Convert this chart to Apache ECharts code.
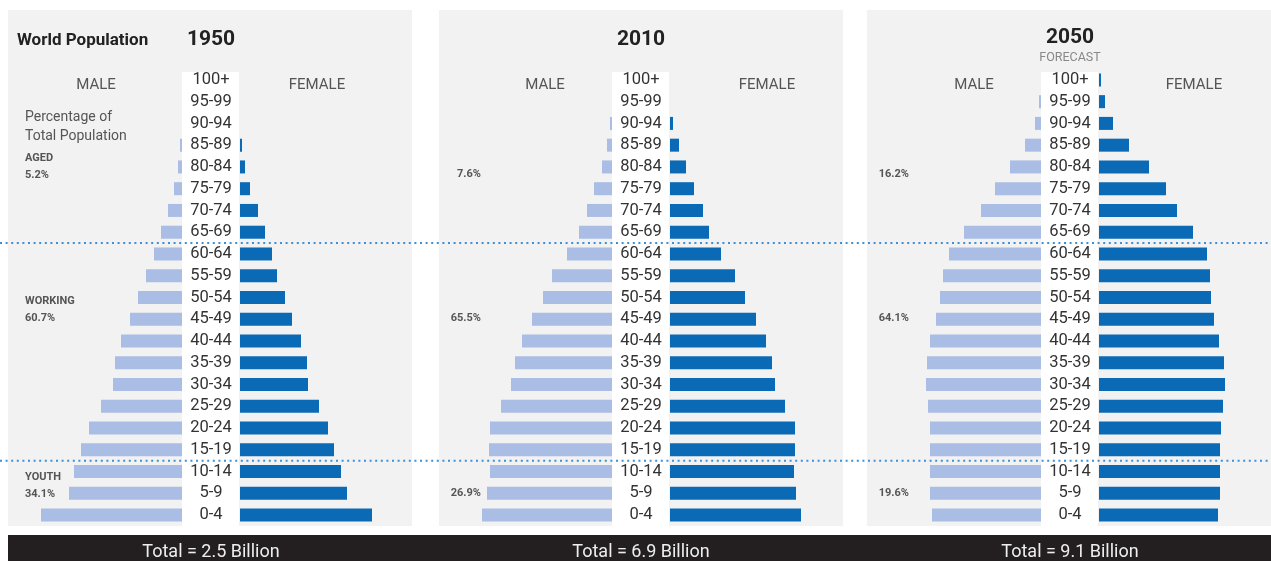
<!DOCTYPE html>
<html><head><meta charset="utf-8">
<script src="https://cdn.jsdelivr.net/npm/echarts@6/dist/echarts.min.js"></script>
<style>html,body{margin:0;padding:0;background:#fff}#c{width:1271px;height:561px}</style>
</head><body><div id="c"></div>
<script>
// ---- data ----
const ageGroups = ['100+','95-99','90-94','85-89','80-84','75-79','70-74','65-69','60-64','55-59','50-54','45-49','40-44','35-39','30-34','25-29','20-24','15-19','10-14','5-9','0-4'];
const years = ['1950','2010','2050'];
const male1950   = [0,0,0,0.1,0.2,0.4,0.7,1.05,1.4,1.8,2.2,2.6,3.05,3.35,3.45,4.05,4.65,5.05,5.4,5.65,7.05];
const female1950 = [0,0,0,0.1,0.25,0.5,0.9,1.25,1.6,1.85,2.25,2.6,3.05,3.35,3.4,3.95,4.4,4.7,5.05,5.35,6.6];
const male2010   = [0,0,0.1,0.25,0.5,0.9,1.25,1.65,2.25,3.0,3.45,4.0,4.5,4.85,5.05,5.55,6.1,6.15,6.1,6.25,6.5];
const female2010 = [0,0,0.15,0.45,0.8,1.2,1.65,1.95,2.55,3.25,3.75,4.3,4.8,5.1,5.25,5.75,6.25,6.25,6.2,6.3,6.55];
const male2050   = [0,0.1,0.3,0.8,1.55,2.3,3.0,3.85,4.6,4.9,5.05,5.25,5.55,5.7,5.75,5.65,5.55,5.55,5.55,5.55,5.45];
const female2050 = [0.1,0.3,0.7,1.5,2.5,3.35,3.9,4.7,5.4,5.55,5.6,5.75,6.0,6.25,6.3,6.2,6.1,6.05,6.05,6.05,5.95];
const agedShare    = ['5.2%','7.6%','16.2%'];
const workingShare = ['60.7%','65.5%','64.1%'];
const youthShare   = ['34.1%','26.9%','19.6%'];
const totals = ['Total = 2.5 Billion','Total = 6.9 Billion','Total = 9.1 Billion'];

const maleData = [male1950, male2010, male2050];
const femaleData = [female1950, female2010, female2050];

// ---- layout ----
const FONT = 'Roboto, "Open Sans", sans-serif';
const MALE_C = '#aabde4', FEMALE_C = '#0b6ab5';
const panelX = [8, 439, 867];
const colL = [182, 612, 1041];
const COLW = 58, GW = 170, GTOP = 69, GH = 457, XMAX = 8.5;
const maleTitleX = [96, 545, 974];
const femaleTitleX = [317, 767, 1194];
const centerX = colL.map(c => c + 29);

const grid = [], xAxis = [], yAxis = [], series = [];
for (let i = 0; i < 3; i++) {
  grid.push({left: colL[i] - GW, top: GTOP, width: GW, height: GH});
  grid.push({left: colL[i] + COLW, top: GTOP, width: GW, height: GH});
  xAxis.push({gridIndex: 2*i, type: 'value', inverse: true, min: 0, max: XMAX, show: false});
  xAxis.push({gridIndex: 2*i+1, type: 'value', min: 0, max: XMAX, show: false});
  yAxis.push({gridIndex: 2*i, type: 'category', data: ageGroups, inverse: true, position: 'right',
    axisLine: {show: false, onZero: false}, axisTick: {show: false}, splitLine: {show: false},
    axisLabel: {interval: 0, align: 'center', margin: 29, fontSize: 16.5, color: '#333', fontFamily: FONT, padding: [5, 0, 0, 0]}});
  yAxis.push({gridIndex: 2*i+1, type: 'category', data: ageGroups, inverse: true, show: false});
  series.push({type: 'bar', name: 'Male ' + years[i], xAxisIndex: 2*i, yAxisIndex: 2*i, data: maleData[i],
    barWidth: 13, itemStyle: {color: MALE_C}, silent: true, z: 3});
  series.push({type: 'bar', name: 'Female ' + years[i], xAxisIndex: 2*i+1, yAxisIndex: 2*i+1, data: femaleData[i],
    barWidth: 13, itemStyle: {color: FEMALE_C}, silent: true, z: 3});
}

function txt(text, x, y, opt) {
  opt = opt || {};
  return {type: 'text', x: x, y: y, z: opt.z || 20, silent: true,
    style: {text: text, fill: opt.fill || '#444', font: opt.font || ('15px ' + FONT),
      textAlign: opt.align || 'left', textVerticalAlign: 'middle'}};
}

const baseGraphics = [];
for (let i = 0; i < 3; i++) {
  baseGraphics.push({type: 'rect', z: -20, silent: true, shape: {x: panelX[i], y: 10, width: 404, height: 516}, style: {fill: '#f2f2f2'}});
  baseGraphics.push({type: 'rect', z: -10, silent: true, shape: {x: colL[i], y: 72, width: COLW - 1, height: 454}, style: {fill: '#ffffff'}});
  baseGraphics.push(txt(years[i], centerX[i], i === 2 ? 38 : 40, {font: 'bold 21px ' + FONT, fill: '#222', align: 'center'}));
  baseGraphics.push(txt('MALE', maleTitleX[i], 85.5, {font: '15px ' + FONT, fill: '#555', align: 'center'}));
  baseGraphics.push(txt('FEMALE', femaleTitleX[i], 85.5, {font: '15px ' + FONT, fill: '#555', align: 'center'}));
  baseGraphics.push(txt(totals[i], centerX[i], 552, {font: '18px ' + FONT, fill: '#eeeeee', align: 'center', z: 30}));
}
baseGraphics.push({type: 'rect', z: 25, silent: true, shape: {x: 8, y: 535, width: 1263, height: 26}, style: {fill: '#231f20'}});
baseGraphics.push(txt('World Population', 17, 41, {font: 'bold 17px ' + FONT, fill: '#222'}));
baseGraphics.push(txt('FORECAST', centerX[2], 57.5, {font: '12.5px ' + FONT, fill: '#888', align: 'center'}));
baseGraphics.push(txt('Percentage of', 25, 117.5, {font: '14px ' + FONT, fill: '#555'}));
baseGraphics.push(txt('Total Population', 25, 136.5, {font: '14px ' + FONT, fill: '#555'}));
const SB = 'bold 11px ' + FONT;
baseGraphics.push(txt('AGED', 25, 158.5, {font: SB, fill: '#555'}));
baseGraphics.push(txt(agedShare[0], 25, 175, {font: SB, fill: '#555'}));
baseGraphics.push(txt('WORKING', 25, 301, {font: SB, fill: '#555'}));
baseGraphics.push(txt(workingShare[0], 25, 318, {font: SB, fill: '#555'}));
baseGraphics.push(txt('YOUTH', 25, 477.5, {font: SB, fill: '#555'}));
baseGraphics.push(txt(youthShare[0], 25, 494, {font: SB, fill: '#555'}));
const rightEdge = [0, 481, 909];
for (let i = 1; i < 3; i++) {
  baseGraphics.push(txt(agedShare[i], rightEdge[i], 174, {font: SB, fill: '#555', align: 'right'}));
  baseGraphics.push(txt(workingShare[i], rightEdge[i], 318, {font: SB, fill: '#555', align: 'right'}));
  baseGraphics.push(txt(youthShare[i], rightEdge[i], 493.5, {font: SB, fill: '#555', align: 'right'}));
}

const chart = echarts.init(document.getElementById('c'), null, {renderer: 'canvas'});
chart.setOption({animation: false, grid, xAxis, yAxis, series, graphic: {elements: baseGraphics}});

// dotted separators between age bands, positioned by the category axis
function boundaryY(a, b) {
  const ya = chart.convertToPixel({gridIndex: 0}, [0, a])[1];
  const yb = chart.convertToPixel({gridIndex: 0}, [0, b])[1];
  return (ya + yb) / 2;
}
const sepYs = [boundaryY('65-69', '60-64'), boundaryY('15-19', '10-14')];
const lines = sepYs.map(y => ({type: 'line', z: 15, silent: true,
  shape: {x1: 0, y1: y, x2: 1271, y2: y},
  style: {stroke: '#3d8fd6', lineWidth: 2, lineDash: [2, 3.6], lineCap: 'butt'}}));
chart.setOption({graphic: {elements: baseGraphics.concat(lines)}}, {replaceMerge: ['graphic']});
</script>
</body></html>
